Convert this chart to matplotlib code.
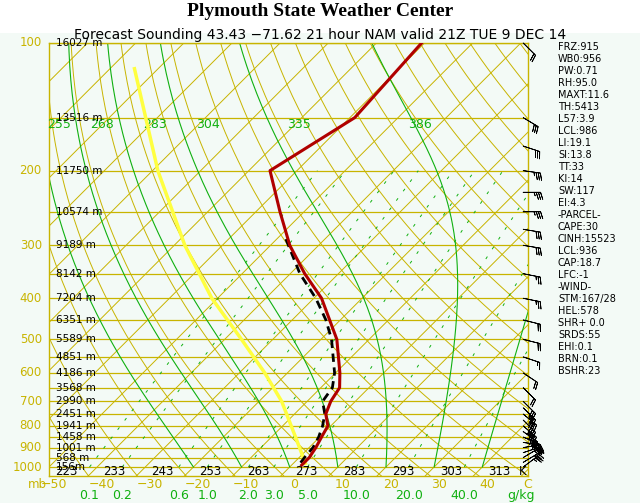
import numpy as np
import matplotlib
matplotlib.use("Agg")
import matplotlib.pyplot as plt
import matplotlib.transforms as mtransforms

SKEW = 88.0  # deg C shift per decade of pressure

# sounding data
p_temp = [100, 150, 200, 250, 300, 350, 400, 500, 600, 650, 700, 750, 800, 850, 900, 950, 990]
t_temp = [-60.6, -59.0, -65.6, -55.0, -46.0, -37.0, -28.4, -16.7, -9.1, -6.1, -5.1, -3.5, -0.6, 0.4, 1.4, 2.1, 2.1]
p_dew = [290, 350, 400, 450, 500, 600, 650, 700, 750, 800, 850, 900, 950, 990]
t_dew = [-48.1, -38.0, -29.6, -23.0, -17.8, -10.2, -7.6, -6.8, -3.7, -1.7, -0.2, 0.8, 1.1, 1.5]
p_par = [980, 850, 700, 600, 500, 400, 300, 200, 115]
t_par = [2.5, -5.0, -15.3, -24.7, -36.5, -51.2, -67.8, -88.9, -114.9]

p_levels = [100, 150, 200, 250, 300, 350, 400, 450, 500, 550, 600, 650, 700, 750, 800, 850, 900, 950, 1000]
heights = ["16027 m", "13516 m", "11750 m", "10574 m", "9189 m", "8142 m", "7204 m", "6351 m", "5589 m",
           "4851 m", "4186 m", "3568 m", "2990 m", "2451 m", "1941 m", "1458 m", "1001 m", "568 m", "156m"]
p_labels = [100, 200, 300, 400, 500, 600, 700, 800, 900, 1000]

wind_p = [100, 150, 175, 200, 225, 250, 275, 300, 350, 400, 450, 500, 550, 600, 650, 700, 725, 750, 775, 800, 825, 850, 875, 900, 925, 950, 975, 1000]
wind_u = [-15, -25, -30, -35, -35, -35, -30, -30, -25, -25, -20, -20, -15, -15, -15, -20, -25, -30, -30, -35, -35, -35, -35, -30, -30, -25, -25, -20]
wind_v = [15, 15, 10, 5, 0, 0, 5, 5, 5, 5, 5, 5, 5, 10, 15, 20, 25, 25, 30, 30, 25, 15, 5, -5, -10, -15, -15, -15]

stats = ["FRZ:915", "WB0:956", "PW:0.71", "RH:95.0", "MAXT:11.6", "TH:5413", "L57:3.9", "LCL:986",
         "LI:19.1", "SI:13.8", "TT:33", "KI:14", "SW:117", "EI:4.3", "-PARCEL-", "CAPE:30", "CINH:15523",
         "LCL:936", "CAP:18.7", "LFC:-1", "-WIND-", "STM:167/28", "HEL:578", "SHR+ 0.0", "SRDS:55",
         "EHI:0.1", "BRN:0.1", "BSHR:23"]

temp_ticks = [-50, -40, -30, -20, -10, 0, 10, 20, 30, 40]
kelvin = [223, 233, 243, 253, 263, 273, 283, 293, 303, 313]
mix_ratios = [0.1, 0.2, 0.6, 1.0, 2.0, 3.0, 5.0, 10.0, 20.0, 40.0]
thetae_labels = [255, 268, 283, 304, 335, 386]

OLIVE = "#c8b400"
GREEN = "#10b010"
PBOT = 1050.0


def skx(t, p):
    return np.asarray(t) + SKEW * np.log10(1000.0 / np.asarray(p, dtype=float))


def sat_mix(t, p):
    es = 6.112 * np.exp(17.67 * t / (t + 243.5))
    return 622.0 * es / (p - es)


def dew_from_mix(w, p):
    e = w * p / (622.0 + w)
    lnr = np.log(e / 6.112)
    return 243.5 * lnr / (17.67 - lnr)


def moist_adiabat(t0, ps):
    out = [t0]
    t = t0
    for i in range(1, len(ps)):
        dp = ps[i] - ps[i - 1]
        tk = t + 273.15
        w = sat_mix(t, ps[i - 1]) / 1000.0
        L, Rd, cp, eps = 2.5e6, 287.0, 1004.0, 0.622
        g = (Rd * tk + L * w) / (cp + L * L * w * eps / (Rd * tk * tk)) / ps[i - 1]
        t = t + g * dp
        out.append(t)
    return np.array(out)


fig = plt.figure(figsize=(6.4, 5.03), dpi=100)
fig.patch.set_facecolor("white")
ax = fig.add_axes([49 / 640, 27 / 503, 479 / 640, 433 / 503])
ax.set_facecolor("#f3faf6")
fig.patches.append(plt.Rectangle((0, 0), 1, 470 / 503, transform=fig.transFigure,
                                 facecolor="#f3faf6", zorder=-10))
ax.set_yscale("log")
ax.set_ylim(PBOT, 100)
ax.set_xlim(-50, 49.5)
ax.set_xticks([])
ax.set_yticks([])
ax.minorticks_off()
for s in ax.spines.values():
    s.set_color(OLIVE)
    s.set_linewidth(1)

pp = np.linspace(PBOT, 100, 200)

for p in p_levels:
    ax.axhline(p, color=OLIVE, lw=0.9, zorder=1)

for t in range(-150, 60, 10):
    ax.plot(skx(t, pp), pp, color=OLIVE, lw=0.7, zorder=1)

for th in range(210, 480, 10):
    ax.plot(skx(th * (pp / 1000.0) ** 0.286 - 273.15, pp), pp, color=OLIVE, lw=0.7, zorder=1)

pma = np.linspace(1000, 100, 200)
for t0 in [-20, -10, 0, 10, 20, 30, 40]:
    ax.plot(skx(moist_adiabat(t0, pma), pma), pma, color=GREEN, lw=0.8, zorder=2)

pm = np.linspace(1000, 200, 100)
for w in mix_ratios:
    ax.plot(skx(dew_from_mix(w, pm), pm), pm, color=GREEN, lw=0.7, ls=(0, (3, 9)), zorder=2)

for i, lab in enumerate(thetae_labels):
    xs = [-48, -39, -28, -17, 2, 27][i]
    ax.text(xs, 150, str(lab), color=GREEN, fontsize=9, ha="center", va="top", zorder=5)

# profiles
ax.plot(skx(t_par, p_par), p_par, color="#ffff40", lw=2.5, zorder=6)
ax.plot(skx(t_dew, p_dew), p_dew, color="black", lw=2, ls=(0, (3, 2)), zorder=7)
ax.plot(skx(t_temp, p_temp), p_temp, color="#b00000", lw=2.2, zorder=8)

for p, h in zip(p_levels, heights):
    ax.text(-48.5, p, h, fontsize=7.5, color="black", ha="left", va="center", zorder=9)

# kelvin labels straddling the bottom frame
for t, k in zip(temp_ticks, kelvin):
    ax.text(t + 3.5, 1022, str(k), fontsize=8.5, ha="center", va="center", zorder=9)
ax.text(49.2, 1022, "K", fontsize=8.5, ha="right", va="center", zorder=9)

trans = mtransforms.blended_transform_factory(ax.transAxes, ax.transData)
for p in p_labels:
    ax.text(-0.015, p, str(p), transform=trans, color=OLIVE, fontsize=8.5, ha="right", va="center")

# temperature tick labels below the frame
ax.text(-0.005, -0.02, "mb", transform=ax.transAxes, color=OLIVE, fontsize=8.5, ha="right", va="center")
for t in temp_ticks:
    ax.text(t + 1, -0.02, str(t).replace("-", "\u2212"), transform=mtransforms.blended_transform_factory(ax.transData, ax.transAxes),
            color=OLIVE, fontsize=9, ha="center", va="center")
ax.text(1.0, -0.02, "C", transform=ax.transAxes, color=OLIVE, fontsize=9, ha="center", va="center")

# mixing ratio labels
tx = mtransforms.blended_transform_factory(ax.transData, ax.transAxes)
for w in mix_ratios:
    ax.text(skx(dew_from_mix(w, 1000.0), 1000.0), -0.045, f"{w:.1f}", transform=tx, color=GREEN,
            fontsize=9, ha="center", va="center")
ax.text(0.985, -0.045, "g/kg", transform=ax.transAxes, color=GREEN, fontsize=9, ha="center", va="center")

# wind barbs
bx = np.full(len(wind_p), 0.99)
ax.barbs(bx, wind_p, wind_u, wind_v, transform=trans, length=5, lw=0.6, color="black",
         clip_on=False, zorder=10)

fig.text(0.5, 0.978, "Plymouth State Weather Center", ha="center", va="center", fontsize=14,
         fontweight="bold", family="Liberation Serif")
fig.text(0.5, (503 - 42) / 503, "Forecast Sounding 43.43 \u221271.62 21 hour NAM valid 21Z TUE 9 DEC 14",
         ha="center", va="bottom", fontsize=10)

for i, s in enumerate(stats):
    fig.text(558 / 640, 1 - (47 + i * 12.0) / 503, s, fontsize=7, va="center", ha="left")

fig.savefig("out.png", dpi=100)
